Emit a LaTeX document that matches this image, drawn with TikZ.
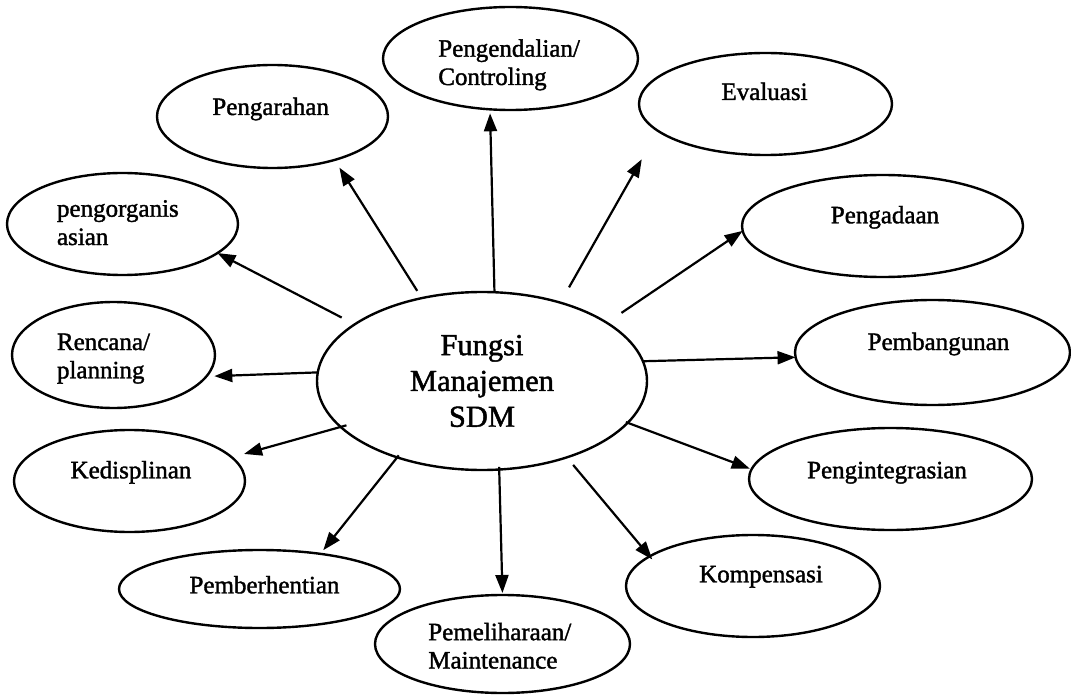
\documentclass[tikz,border=0pt]{standalone}
\usepackage{fontspec}
\setmainfont{Liberation Serif}
\newfontfamily\scanfont{Liberation Serif}[FakeBold=1.5]
\usetikzlibrary{shapes.geometric,arrows.meta}
\begin{document}
\begin{tikzpicture}[x=1pt,y=-1pt,
  oval/.style={draw, ellipse, line width=2.4pt, inner sep=0pt, outer sep=0pt},
  lbl/.style={inner sep=0pt, outer sep=0pt, font=\scanfont\fontsize{25}{28.3}\selectfont},
  lbll/.style={lbl, align=left, anchor=base west},
  lblc/.style={lbl, anchor=base},
  arr/.style={line width=2.2pt, -{Triangle[length=18pt,width=13pt]}}]
\useasboundingbox (0,0) rectangle (1071,695);
\fill[white] (0,0) rectangle (1071,695);

% centre
\node[oval, minimum width=330pt, minimum height=178pt, align=center,
      font=\scanfont\fontsize{30.5}{35.8}\selectfont] (fungsi) at (482,381) {Fungsi\\Manajemen\\SDM};

% outer ellipses
\node[oval, minimum width=255pt, minimum height=103pt] (ctrl)   at (510.5,58.5) {};
\node[oval, minimum width=231pt, minimum height=103pt] (arah)   at (272.5,116.5) {};
\node[oval, minimum width=231pt, minimum height=102pt] (org)    at (122.5,224) {};
\node[oval, minimum width=203pt, minimum height=106pt] (ren)    at (113.5,355) {};
\node[oval, minimum width=231pt, minimum height=102pt] (ked)    at (129.5,481) {};
\node[oval, minimum width=281pt, minimum height=78pt]  (pemb)   at (259.5,589) {};
\node[oval, minimum width=255pt, minimum height=98pt]  (pemel)  at (502.5,644) {};
\node[oval, minimum width=254pt, minimum height=102pt] (komp)   at (753,586) {};
\node[oval, minimum width=283pt, minimum height=102pt] (integ)  at (890.5,479) {};
\node[oval, minimum width=275pt, minimum height=105pt] (bangun) at (932.5,352.5) {};
\node[oval, minimum width=281pt, minimum height=102pt] (adaan)  at (882.5,226) {};
\node[oval, minimum width=253pt, minimum height=102pt] (eval)   at (765.5,104) {};

% labels (multi-line: base = last line)
\node[lbll] (tctrl)  at (438.3,85)    {Pengendalian/\\Controling};
\node[lblc] (tarah)  at (270.7,115)   {Pengarahan};
\node[lbll] (torg)   at (57,245)      {pengorganis\\asian};
\node[lbll] (tren)   at (57,378.3)    {Rencana/\\planning};
\node[lblc] (tked)   at (131,478.3)   {Kedisplinan};
\node[lblc] (tpemb)  at (264.5,593.3) {Pemberhentian};
\node[lbll] (tpemel) at (428.3,668.5) {Pemeliharaan/\\Maintenance};
\node[lblc] (tkomp)  at (761,582.3)   {Kompensasi};
\node[lblc] (tinteg) at (887,478.3)   {Pengintegrasian};
\node[lblc] (tbang)  at (938.5,350)   {Pembangunan};
\node[lblc] (tadaan) at (885,223.3)   {Pengadaan};
\node[lblc] (teval)  at (764.5,100)   {Evaluasi};

% arrows
\draw[arr, shorten >=4pt] (fungsi.82.9) -- (ctrl.-112.0);
\draw[arr, shorten <=8.6pt, shorten >=9.1pt] (fungsi.126.1) -- (arah.-35.9);
\draw[arr, shorten <=14.8pt] (fungsi.156.3) -- (org.-17.4);
\draw[arr, shorten >=8pt] (fungsi.177.6) -- (ren.-13.4);
\draw[arr, shorten <=-6pt, shorten >=12.7pt] (fungsi.-162.7) -- (ked.13.6);
\draw[arr, shorten <=-2.5pt, shorten >=4.7pt] (fungsi.-138.7) -- (pemb.30.6);
\draw[arr, shorten <=-2.6pt, shorten >=2pt] (fungsi.-79.8) -- (pemel.90.6);
\draw[arr, shorten <=9.9pt, shorten >=-4pt] (fungsi.-42.0) -- (komp.164.4);
\draw[arr, shorten <=-2pt, shorten >=2pt] (fungsi.-16.4) -- (integ.176.6);
\draw[arr] (fungsi.7.5) -- (bangun.-178.1);
\draw[arr, shorten <=17.7pt] (fungsi.25.6) -- (adaan.-178.5);
\draw[arr, shorten <=17.6pt, shorten >=32.7pt] (fungsi.45.4) -- (eval.-166.9);
\end{tikzpicture}
\end{document}
